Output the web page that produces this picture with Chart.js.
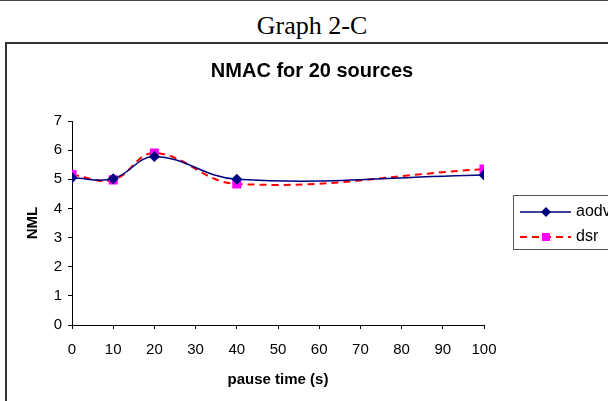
<!DOCTYPE html>
<html>
<head>
<meta charset="utf-8">
<script src="https://cdn.jsdelivr.net/npm/chart.js@4.4.0/dist/chart.umd.min.js"></script>
<style>
    html, body { margin: 0; padding: 0; width: 608px; height: 401px; overflow: hidden; background: #fff; }
    #topline { position: absolute; left: 0; top: 0; width: 608px; height: 1px; background: #444; }
    #caption { position: absolute; left: 0; top: 13px; width: 624px; text-align: center; line-height: 26px;
        font-family: "Liberation Serif", serif; font-size: 26px; color: #000; }
    #frame { position: absolute; left: 5px; top: 42px; width: 640px; height: 400px;
        border: 2px solid #333; box-sizing: border-box; }
    #wrap { position: absolute; left: 7px; top: 44px; width: 610px; height: 357px; }
</style>
</head>
<body>
<div id="topline"></div>
<div id="caption">Graph 2-C</div>
<div id="frame"></div>
<div id="wrap"><canvas id="chart" width="610" height="357"></canvas></div>
<script>
const pauseTimes = [0, 10, 20, 40, 100];
const aodvValues = [5.05, 5.02, 5.78, 5.0, 5.15];
const dsrValues = [5.16, 4.98, 5.9, 4.84, 5.35];
const seriesNames = ['aodv', 'dsr'];
const chartTitle = 'NMAC for 20 sources';

function toPoints(xs, ys) {
    return xs.map((x, i) => ({ x: x, y: ys[i] }));
}

const FONT = '"Liberation Sans", Arial, sans-serif';

// title centred on the whole frame, not the plot area
const frameTitle = {
    id: 'frameTitle',
    afterDraw(chart) {
        const ctx = chart.ctx;
        ctx.save();
        ctx.fillStyle = '#000';
        ctx.font = 'bold 20px ' + FONT;
        ctx.textAlign = 'center';
        ctx.textBaseline = 'middle';
        ctx.fillText(chartTitle, 305, 27);
        ctx.restore();
    }
};

// legend box drawn by hand, Excel style (clipped by the right edge)
const boxLegend = {
    id: 'boxLegend',
    afterDraw(chart) {
        const ctx = chart.ctx;
        const left = chart.chartArea.right + 29;
        const top = chart.chartArea.top + 74;
        ctx.save();
        ctx.strokeStyle = '#555';
        ctx.lineWidth = 1;
        ctx.strokeRect(left + 0.5, top + 0.5, 120, 54);
        chart.data.datasets.forEach((ds, i) => {
            const y = top + 17 + i * 25;
            ctx.strokeStyle = ds.borderColor;
            ctx.lineWidth = ds.borderWidth;
            ctx.setLineDash(ds.borderDash || []);
            ctx.beginPath();
            ctx.moveTo(left + 7, y);
            ctx.lineTo(left + 58, y);
            ctx.stroke();
            ctx.setLineDash([]);
            ctx.fillStyle = ds.pointBackgroundColor;
            const cx = left + 33;
            if (ds.pointStyle === 'rectRot') {
                ctx.beginPath();
                ctx.moveTo(cx, y - 5);
                ctx.lineTo(cx + 5, y);
                ctx.lineTo(cx, y + 5);
                ctx.lineTo(cx - 5, y);
                ctx.closePath();
                ctx.fill();
            } else {
                ctx.fillRect(cx - 4, y - 4, 8, 8);
            }
            ctx.fillStyle = '#000';
            ctx.font = '16px ' + FONT;
            ctx.textBaseline = 'middle';
            ctx.fillText(ds.label, left + 63, y);
        });
        ctx.restore();
    }
};

new Chart(document.getElementById('chart').getContext('2d'), {
    type: 'line',
    data: {
        datasets: [{
            label: seriesNames[0],
            data: toPoints(pauseTimes, aodvValues),
            borderColor: '#000080',
            borderWidth: 1.5,
            pointStyle: 'rectRot',
            pointRadius: 4.5,
            pointBackgroundColor: '#000080',
            pointBorderColor: '#000080',
            tension: 0.4,
            fill: false
        }, {
            label: seriesNames[1],
            data: toPoints(pauseTimes, dsrValues),
            borderColor: '#ff0000',
            borderWidth: 2,
            borderDash: [7, 5],
            pointStyle: 'rect',
            pointRadius: 5,
            pointBackgroundColor: '#ff00ff',
            pointBorderColor: '#ff00ff',
            tension: 0.4,
            fill: false
        }]
    },
    options: {
        responsive: false,
        animation: false,
        layout: {
            padding: { left: 0, right: 133, top: 77, bottom: 0 }
        },
        plugins: {
            legend: { display: false },
            tooltip: { enabled: false },
            title: { display: false }
        },
        scales: {
            x: {
                type: 'linear',
                min: 0,
                max: 100,
                ticks: {
                    stepSize: 10,
                    color: '#000',
                    padding: 12,
                    font: { family: FONT, size: 15 }
                },
                grid: { drawOnChartArea: false, color: '#000', tickLength: 4 },
                border: { color: '#000' },
                title: {
                    display: true,
                    text: 'pause time (s)',
                    color: '#000',
                    font: { family: FONT, size: 15, weight: 'bold' },
                    padding: { top: 6, bottom: 12 }
                },
                afterFit(scale) { scale.height = 76; }
            },
            y: {
                min: 0,
                max: 7,
                ticks: {
                    stepSize: 1,
                    color: '#000',
                    padding: 6,
                    font: { family: FONT, size: 15 }
                },
                grid: { drawOnChartArea: false, color: '#000', tickLength: 4 },
                border: { color: '#000' },
                title: {
                    display: true,
                    text: 'NML',
                    color: '#000',
                    font: { family: FONT, size: 15, weight: 'bold' },
                    padding: { top: 17, bottom: 4 }
                },
                afterFit(scale) { scale.width = 65; }
            }
        }
    },
    plugins: [frameTitle, boxLegend]
});
</script>
</body>
</html>
